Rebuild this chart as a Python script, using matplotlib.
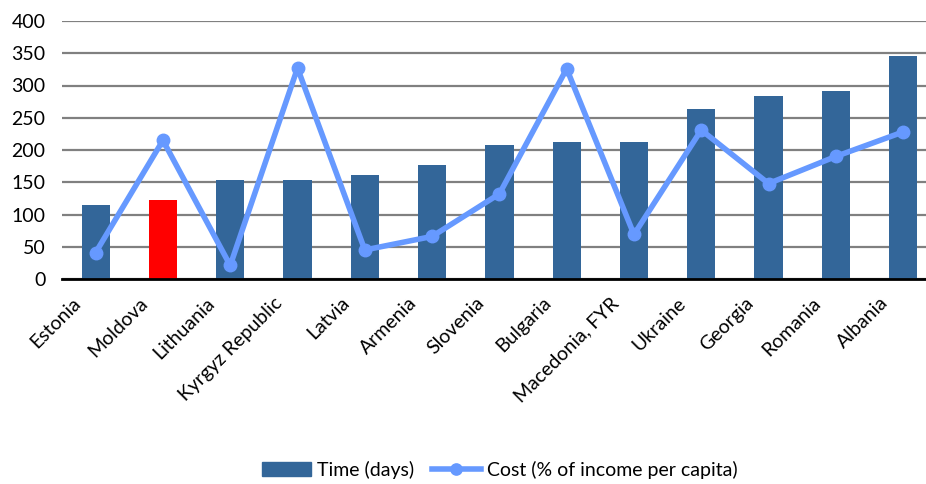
import numpy as np
import matplotlib
matplotlib.use("Agg")
import matplotlib.pyplot as plt
import matplotlib.transforms as mtransforms

plt.rcParams['font.family'] = ['Lato', 'DejaVu Sans']

# data
countries = ['Estonia', 'Moldova', 'Lithuania', 'Kyrgyz Republic', 'Latvia', 'Armenia',
             'Slovenia', 'Bulgaria', 'Macedonia, FYR', 'Ukraine', 'Georgia', 'Romania', 'Albania']
time_days = [115, 122, 153, 153, 162, 176, 208, 212, 213, 263, 283, 292, 345]
cost_pct = [41, 215, 21, 327, 45, 66, 132, 326, 69, 231, 148, 190, 228]

bar_color = '#336699'
hi_color = '#FF0000'
line_color = '#6699FF'

fig = plt.figure(figsize=(9.26, 4.84), dpi=100)
ax = fig.add_axes([62/926, 205/484, 864/926, 258/484])

x = np.arange(len(countries))
colors = [hi_color if c == 'Moldova' else bar_color for c in countries]
bars = ax.bar(x, time_days, width=0.42, color=colors, zorder=2, label='Time (days)')
line, = ax.plot(x, cost_pct, color=line_color, lw=4, marker='o', ms=9, zorder=3,
                label='Cost (% of income per capita)', clip_on=False)

ax.set_xlim(-0.5, 12.34)
ax.set_ylim(0, 400)
ax.set_yticks(range(0, 401, 50))
ax.yaxis.grid(True, color='#808080', lw=1.6, zorder=0)
ax.set_axisbelow(True)
for s in ['top', 'right', 'left']:
    ax.spines[s].set_visible(False)
ax.spines['bottom'].set_color('black')
ax.spines['bottom'].set_linewidth(2)
ax.spines['bottom'].set_zorder(4)
ax.tick_params(axis='both', length=0, labelsize=14)
ax.tick_params(axis='y', pad=12)
ax.set_xticks(x)
ax.set_xticklabels(countries, rotation=45, ha='right', va='top', rotation_mode='anchor')
ax.tick_params(axis='x', pad=11)
# push the rotated labels left like the original
shift = mtransforms.ScaledTranslation(-24/100, 0, fig.dpi_scale_trans)
for lbl in ax.get_xticklabels():
    lbl.set_transform(lbl.get_transform() + shift)

bar_handle = plt.Rectangle((0, 0), 1, 1, color=bar_color)
fig.legend([bar_handle, line], ['Time (days)', 'Cost (% of income per capita)'],
           loc='center', bbox_to_anchor=(500/926, 1 - 470/484), ncol=2,
           frameon=False, fontsize=14, handlelength=2.5, columnspacing=0.9,
           handletextpad=0.35, markerscale=0.9)

fig.savefig('out.png', dpi=100)
